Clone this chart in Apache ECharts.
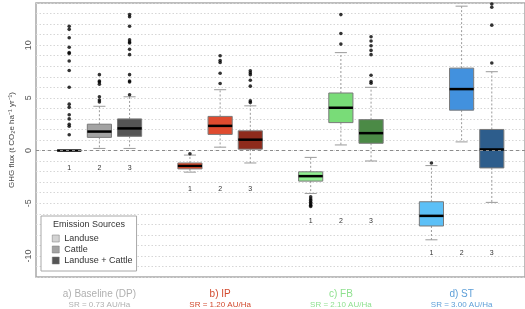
<!DOCTYPE html>
<html><head><meta charset="utf-8">
<script src="https://cdn.jsdelivr.net/npm/echarts@6/dist/echarts.min.js"></script>
<style>html,body{margin:0;padding:0;background:#fff}#c{width:525px;height:309px}</style>
</head><body><div id="c"></div>
<script>
// ---- data ----
const groupNames = ['a) Baseline (DP)', 'b) IP', 'c) FB', 'd) ST'];
const stockingRates = ['SR = 0.73 AU/Ha', 'SR = 1.20 AU/Ha', 'SR = 2.10 AU/Ha', 'SR = 3.00 AU/Ha'];
const sources = ['Landuse', 'Cattle', 'Landuse + Cattle'];
const boxLabels = ['1', '2', '3'];
// [lower whisker, Q1, median, Q3, upper whisker] per group
const landuseStats = [
  [0, 0, 0, 0, 0],
  [-2.05, -1.74, -1.46, -1.18, -0.43],
  [-4.07, -2.9, -2.43, -2.02, -0.65],
  [-8.47, -7.16, -6.2, -4.86, -1.43]
];
const cattleStats = [
  [0.2, 1.25, 1.8, 2.5, 4.2],
  [0.32, 1.53, 2.34, 3.24, 5.77],
  [0.53, 2.65, 4.06, 5.46, 9.29],
  [0.82, 3.83, 5.83, 7.82, 13.7]
];
const comboStats = [
  [0.2, 1.35, 2.1, 3.0, 5.1],
  [-1.18, 0.13, 1.03, 1.87, 4.24],
  [-0.99, 0.69, 1.65, 2.93, 6.0],
  [-4.92, -1.65, 0.1, 2.0, 7.48]
];
const landuseOutliers = [
  [11.8, 11.5, 10.7, 9.8, 9.3, 9.2, 8.5, 7.6, 6.0, 4.4, 4.1, 3.4, 3.0, 2.5, 2.3, 1.5],
  [-0.3],
  [-4.4, -4.6, -4.75, -4.9, -5.05, -5.2, -5.3],
  [-1.18]
];
const cattleOutliers = [
  [7.2, 6.6, 6.5, 6.3, 5.1, 4.8, 4.6],
  [9.0, 8.54, 8.35, 7.33, 6.36],
  [12.9, 11.1, 10.1],
  []
];
const comboOutliers = [
  [12.9, 12.7, 11.8, 10.5, 10.3, 10.2, 9.6, 9.1, 7.2, 6.6, 6.5, 5.3],
  [7.57, 7.38, 7.2, 6.67, 6.11, 4.71, 4.55],
  [10.8, 10.4, 9.94, 9.5, 9.1, 7.14, 6.54, 6.39],
  [13.9, 13.6, 11.9, 8.3]
];
const numberLabelY = [-1.65, -3.7, -6.7, -9.7];
const yTicks = [-10, -5, 0, 5, 10];

// ---- styles ----
const legendColors = ['#d3d3d3', '#a3a3a3', '#555555'];
const boxColors = [
  ['#d3d3d3', '#f2522f', '#90ee90', '#5cc0f7'],
  ['#a3a3a3', '#e04b2f', '#79dc78', '#4291de'],
  ['#555555', '#8e2b1c', '#4b8a46', '#2d5d8c']
];
const groupColors = ['#b0b0b0', '#d24a2e', '#8fe08f', '#5d9fd8'];
const FONT = 'Liberation Sans, Arial, sans-serif';

const allStats = [landuseStats, cattleStats, comboStats];
const allOutliers = [landuseOutliers, cattleOutliers, comboOutliers];
const xPos = (g, s) => g * 4 + s + 1;

function renderBox(params, api) {
  const x = api.value(0);
  const p = i => api.coord([x, api.value(i)]);
  const lo = p(1), q1 = p(2), md = p(3), q3 = p(4), hi = p(5);
  const w = api.size([0.8, 0])[0];
  const cx = lo[0], half = w / 2, cap = w / 4;
  const color = api.visual('color');
  const wh = { stroke: '#9a9a9a', lineWidth: 1, lineDash: [2, 2] };
  const cs = { stroke: '#9a9a9a', lineWidth: 1 };
  return { type: 'group', children: [
    { type: 'line', shape: { x1: cx, y1: q3[1], x2: cx, y2: hi[1] }, style: wh },
    { type: 'line', shape: { x1: cx, y1: q1[1], x2: cx, y2: lo[1] }, style: wh },
    { type: 'line', shape: { x1: cx - cap, y1: hi[1], x2: cx + cap, y2: hi[1] }, style: cs },
    { type: 'line', shape: { x1: cx - cap, y1: lo[1], x2: cx + cap, y2: lo[1] }, style: cs },
    { type: 'rect', shape: { x: cx - half, y: q3[1], width: w, height: q1[1] - q3[1] }, style: { fill: color, stroke: '#7a7a7a', lineWidth: 1 } },
    { type: 'line', shape: { x1: cx - half, y1: md[1], x2: cx + half, y2: md[1] }, style: { stroke: '#000', lineWidth: 2.5 } }
  ]};
}

const series = sources.map((name, s) => ({
  name, type: 'custom', renderItem: renderBox,
  itemStyle: { color: legendColors[s] },
  dimensions: ['x', 'min', 'q1', 'med', 'q3', 'max'],
  encode: { x: 0, y: [1, 2, 3, 4, 5] },
  data: allStats[s].map((st, g) => ({ value: [xPos(g, s)].concat(st), itemStyle: { color: boxColors[s][g] } })),
  silent: true, z: 3
}));

const outlierData = [];
allOutliers.forEach((arr, s) => arr.forEach((vals, g) => vals.forEach(v => outlierData.push([xPos(g, s), v]))));
series.push({
  type: 'scatter', data: outlierData, symbolSize: 3.6,
  itemStyle: { color: '#000' }, silent: true, z: 4,
  markLine: { silent: true, symbol: ['none', 'none'], label: { show: false },
    lineStyle: { type: [3, 3], color: '#8c8c8c', width: 1 }, data: [{ yAxis: 0 }] }
});

const numData = [];
numberLabelY.forEach((y, g) => boxLabels.forEach((t, s) => numData.push([xPos(g, s), y, t])));
series.push({
  type: 'custom', data: numData, silent: true, z: 4,
  encode: { x: 0, y: 1 },
  renderItem: (params, api) => {
    const pt = api.coord([api.value(0), api.value(1)]);
    return { type: 'text', x: pt[0], y: pt[1], style: { text: numData[params.dataIndex][2], align: 'center', verticalAlign: 'middle', fontSize: 7, fill: '#333', fontFamily: FONT } };
  }
});

const rich = {};
groupNames.forEach((n, g) => {
  rich['t' + g] = { fontSize: 10, color: groupColors[g], fontFamily: FONT, lineHeight: 12 };
  rich['s' + g] = { fontSize: 8, color: groupColors[g], fontFamily: FONT, lineHeight: 10 };
});
const groupCenters = groupNames.map((n, g) => xPos(g, 1));

const chart = echarts.init(document.getElementById('c'), null, { renderer: 'canvas' });
chart.setOption({
  animation: false,
  grid: { left: 33, right: -3, top: 1, bottom: 30, show: true, borderColor: '#a8a8a8', borderWidth: 1.5, backgroundColor: 'transparent' },
  legend: {
    data: sources, orient: 'vertical', left: 41, top: 216,
    padding: [18, 4, 6, 11], itemGap: 2, itemWidth: 7, itemHeight: 7, icon: 'rect',
    itemStyle: { borderColor: '#777', borderWidth: 0.5 },
    backgroundColor: '#fff', borderColor: '#a8a8a8', borderWidth: 1,
    textStyle: { fontSize: 9, color: '#333', fontFamily: FONT }, selectedMode: false
  },
  graphic: [{ type: 'text', x: 89, y: 225, z: 100, style: { text: 'Emission Sources', align: 'center', verticalAlign: 'middle', fontSize: 9, fill: '#333', fontFamily: FONT } }],
  xAxis: {
    type: 'value', min: -0.1, max: 16.1,
    axisLine: { show: false }, axisTick: { show: false }, splitLine: { show: false },
    axisLabel: {
      customValues: groupCenters, margin: 11,
      formatter: v => { const g = groupCenters.indexOf(v); return g < 0 ? '' : '{t' + g + '|' + groupNames[g] + '}\n{s' + g + '|' + stockingRates[g] + '}'; },
      rich
    }
  },
  yAxis: {
    type: 'value', min: -12, max: 14, interval: 1,
    name: 'GHG flux (t CO₂e ha⁻¹ yr⁻¹)', nameLocation: 'middle', nameGap: 20,
    nameTextStyle: { fontSize: 8, color: '#444', fontFamily: FONT },
    axisLine: { show: false }, axisTick: { show: false },
    axisLabel: { rotate: 90, fontSize: 9, color: '#555', margin: 3, fontFamily: FONT,
      formatter: v => yTicks.indexOf(v) >= 0 ? String(v) : '' },
    splitLine: { show: true, lineStyle: { color: '#d6d6d6', type: [1.5, 2], width: 1 } }
  },
  series
});
</script></body></html>
